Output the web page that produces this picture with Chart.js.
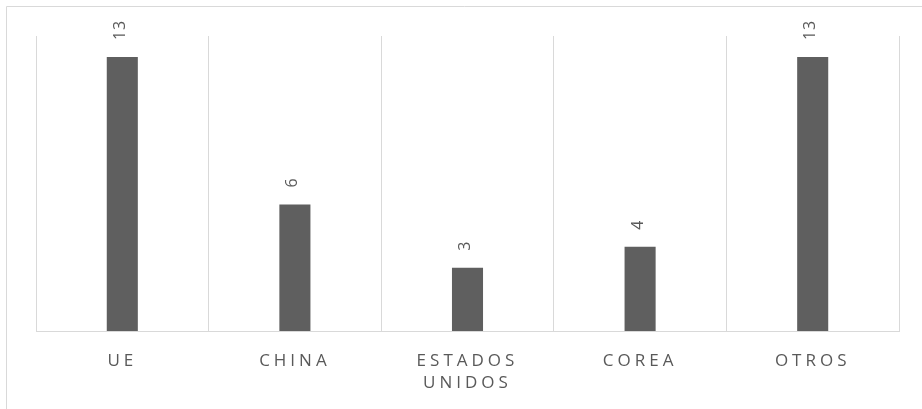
<!DOCTYPE html>
<html>
<head>
<meta charset="utf-8">
<script src="https://cdn.jsdelivr.net/npm/chart.js@4/dist/chart.umd.min.js"></script>
<style>
  html, body { margin: 0; padding: 0; background: #fff; overflow: hidden; }
  #wrap { width: 922px; height: 409px; position: relative; }
</style>
</head>
<body>
<div id="wrap"><canvas id="myBarChart" width="922" height="409"></canvas></div>
<script>
// Datos del gráfico
const categorias = ['UE', 'CHINA', 'ESTADOS UNIDOS', 'COREA', 'OTROS'];
const valores = [13, 6, 3, 4, 13];
const ejeMax = 14;

const textColor = '#595959';
const gridColor = '#d9d9d9';

// Marco exterior (solo borde izquierdo y superior visibles)
const marcoPlugin = {
    id: 'marco',
    beforeDraw(chart) {
        const ctx = chart.ctx;
        ctx.save();
        ctx.strokeStyle = gridColor;
        ctx.lineWidth = 1;
        ctx.beginPath();
        ctx.moveTo(6.5, chart.height);
        ctx.lineTo(6.5, 6.5);
        ctx.lineTo(chart.width, 6.5);
        ctx.stroke();
        ctx.restore();
        ctx.letterSpacing = '4px';
    }
};

// Etiquetas de datos giradas sobre cada barra
const etiquetasPlugin = {
    id: 'etiquetas',
    afterDatasetsDraw(chart) {
        const ctx = chart.ctx;
        const meta = chart.getDatasetMeta(0);
        ctx.save();
        ctx.fillStyle = textColor;
        ctx.font = '16px "Open Sans"';
        ctx.letterSpacing = '1px';
        ctx.textAlign = 'left';
        ctx.textBaseline = 'middle';
        meta.data.forEach((bar, i) => {
            ctx.save();
            ctx.translate(bar.x - 2, bar.y - 17);
            ctx.rotate(-Math.PI / 2);
            ctx.fillText(String(valores[i]), 0, 0);
            ctx.restore();
        });
        ctx.restore();
    }
};

const barCtx = document.getElementById('myBarChart').getContext('2d');
const barData = {
    labels: categorias,
    datasets: [{
        data: valores,
        backgroundColor: '#5f5f5f',
        borderWidth: 0,
        barPercentage: 0.18,
        categoryPercentage: 1
    }]
};

const barConfig = {
    type: 'bar',
    data: barData,
    options: {
        responsive: false,
        animation: false,
        layout: {
            padding: { left: 36, right: 23, top: 36, bottom: 0 }
        },
        scales: {
            x: {
                grid: {
                    color: gridColor,
                    drawTicks: false,
                    offset: true
                },
                border: { display: true, color: gridColor },
                ticks: {
                    color: textColor,
                    font: { family: '"Open Sans"', size: 17, lineHeight: 1.3 },
                    padding: 19,
                    maxRotation: 0,
                    callback: function (value) {
                        const label = categorias[value];
                        return label.includes(' ') ? label.split(' ') : label;
                    }
                },
                afterFit(scale) {
                    scale.height = 78;
                }
            },
            y: {
                display: false,
                min: 0,
                max: ejeMax
            }
        },
        plugins: {
            legend: { display: false },
            tooltip: { enabled: false }
        }
    },
    plugins: [marcoPlugin, etiquetasPlugin]
};
const myBarChart = new Chart(barCtx, barConfig);
</script>
</body>
</html>
